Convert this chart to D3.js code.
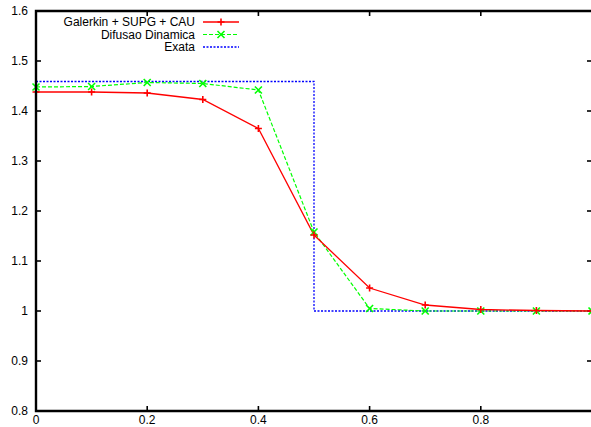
<!DOCTYPE html>
<html>
<head>
<meta charset="utf-8">
<script src="https://cdn.jsdelivr.net/npm/d3@7/dist/d3.min.js"></script>
<style>
  body { margin: 0; background: #fff; overflow: hidden; }
  svg { display: block; font-family: "Liberation Sans", Arial, sans-serif; }
</style>
</head>
<body>
<svg id="chart" width="591" height="427"></svg>
<script>
// data
const xs = [0, 0.1, 0.2, 0.3, 0.4, 0.5, 0.6, 0.7, 0.8, 0.9, 1.0];
const galerkin = [1.438, 1.438, 1.436, 1.423, 1.365, 1.152, 1.046, 1.012, 1.003, 1.001, 1.000];
const difusao = [1.448, 1.449, 1.457, 1.455, 1.442, 1.158, 1.005, 1.000, 1.000, 1.000, 1.000];
const exataX = [0, 0.5, 0.5, 1.0];
const exataY = [1.459, 1.459, 1.0, 1.0];
const xTicks = [0, 0.2, 0.4, 0.6, 0.8];
const yTicks = [0.8, 0.9, 1.0, 1.1, 1.2, 1.3, 1.4, 1.5, 1.6];
const legendNames = ["Galerkin + SUPG + CAU", "Difusao Dinamica", "Exata"];

const svg = d3.select("#chart");
const m = { left: 36, right: 592, top: 11, bottom: 411 };

const x = d3.scaleLinear().domain([0, 1]).range([m.left, m.right]);
const y = d3.scaleLinear().domain([0.8, 1.6]).range([m.bottom, m.top]);

const fmt = d => d === 1 ? "1" : (d === 0 ? "0" : d3.format(".1f")(d));
const fs = 12;

// ticks (gnuplot style: inward, mirrored)
const tickLen = 5;
const axes = svg.append("g").attr("stroke", "#000").attr("stroke-width", 1.6);
yTicks.forEach(v => {
  axes.append("line").attr("x1", m.left).attr("x2", m.left + tickLen).attr("y1", y(v)).attr("y2", y(v));
  axes.append("line").attr("x1", m.right - tickLen).attr("x2", m.right).attr("y1", y(v)).attr("y2", y(v));
});
xTicks.forEach(v => {
  axes.append("line").attr("x1", x(v)).attr("x2", x(v)).attr("y1", m.bottom).attr("y2", m.bottom - tickLen);
  axes.append("line").attr("x1", x(v)).attr("x2", x(v)).attr("y1", m.top).attr("y2", m.top + tickLen);
});

svg.append("g").selectAll("text").data(yTicks).join("text")
  .attr("x", 28).attr("y", d => y(d) + 4.3)
  .attr("text-anchor", "end").attr("font-size", fs).text(fmt);

svg.append("g").selectAll("text").data(xTicks).join("text")
  .attr("x", d => x(d)).attr("y", 424)
  .attr("text-anchor", "middle").attr("font-size", fs).text(fmt);

// curves
const line = d3.line().x(d => x(d[0])).y(d => y(d[1]));

svg.append("path")
  .datum(exataX.map((v, i) => [v, exataY[i]]))
  .attr("d", line).attr("fill", "none")
  .attr("stroke", "#0000ff").attr("stroke-width", 1.3).attr("stroke-dasharray", "2,1.5");

svg.append("path")
  .datum(xs.map((v, i) => [v, difusao[i]]))
  .attr("d", line).attr("fill", "none")
  .attr("stroke", "#00ff00").attr("stroke-width", 1.2).attr("stroke-dasharray", "4,2");

svg.append("path")
  .datum(xs.map((v, i) => [v, galerkin[i]]))
  .attr("d", line).attr("fill", "none")
  .attr("stroke", "#ff0000").attr("stroke-width", 1.3);

const ms = 3.5;
function plus(g, cx, cy, color) {
  g.append("path").attr("d", `M${cx - ms},${cy}H${cx + ms}M${cx},${cy - ms}V${cy + ms}`)
    .attr("stroke", color).attr("stroke-width", 1.6).attr("fill", "none");
}
function cross(g, cx, cy, color) {
  g.append("path").attr("d", `M${cx - ms},${cy - ms}L${cx + ms},${cy + ms}M${cx - ms},${cy + ms}L${cx + ms},${cy - ms}`)
    .attr("stroke", color).attr("stroke-width", 1.6).attr("fill", "none");
}

const marks = svg.append("g");
xs.forEach((v, i) => cross(marks, x(v), y(difusao[i]), "#00ff00"));
xs.forEach((v, i) => plus(marks, x(v), y(galerkin[i]), "#ff0000"));

// frame
svg.append("path")
  .attr("d", `M${m.right},${m.top}H${m.left}V${m.bottom}H${m.right}`)
  .attr("fill", "none").attr("stroke", "#000").attr("stroke-width", 2.4);

// legend
const leg = svg.append("g");
const rows = [22, 34.5, 47];
const styles = [
  { color: "#ff0000", dash: null, w: 1.3, mark: plus },
  { color: "#00ff00", dash: "4,2", w: 1.2, mark: cross },
  { color: "#0000ff", dash: "2,1.5", w: 1.3, mark: null }
];
legendNames.forEach((name, i) => {
  leg.append("text").attr("x", 195).attr("y", rows[i] + 4.3)
    .attr("text-anchor", "end").attr("font-size", fs).text(name);
  leg.append("line").attr("x1", 203).attr("x2", 239).attr("y1", rows[i]).attr("y2", rows[i])
    .attr("stroke", styles[i].color).attr("stroke-width", styles[i].w)
    .attr("stroke-dasharray", styles[i].dash);
  if (styles[i].mark) styles[i].mark(leg, 221, rows[i], styles[i].color);
});
</script>
</body>
</html>
